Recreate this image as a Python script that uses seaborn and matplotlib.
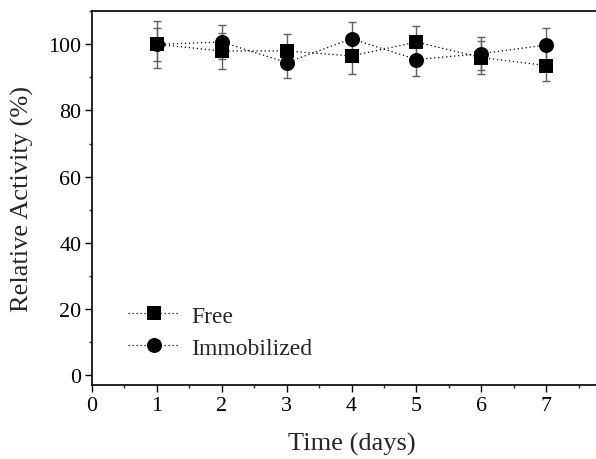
import numpy as np
import pandas as pd
import matplotlib
matplotlib.use("Agg")
import matplotlib.pyplot as plt
import seaborn as sns
from matplotlib.ticker import MultipleLocator

days = [1, 2, 3, 4, 5, 6, 7]
free = [100.0, 98.0, 98.0, 96.5, 100.7, 96.0, 93.6]
free_err = [7.0, 5.4, 5.0, 5.5, 5.0, 5.1, 4.7]
immob = [100.0, 100.7, 94.5, 101.7, 95.4, 97.2, 99.8]
immob_err = [5.0, 5.2, 4.8, 5.1, 4.9, 5.1, 5.0]
series_names = ["Free", "Immobilized"]
x_ticks = [0, 1, 2, 3, 4, 5, 6, 7]
y_ticks = [0, 20, 40, 60, 80, 100]

sns.set_style("ticks")
plt.rcParams["font.family"] = ["Liberation Serif", "DejaVu Serif"]

fig = plt.figure(figsize=(5.96, 4.60), dpi=100)
ax = fig.add_axes([0.1544, 0.1609, 0.871, 0.8124])

df = pd.DataFrame({
    "day": days * 2,
    "val": free + immob,
    "sample": [series_names[0]] * len(days) + [series_names[1]] * len(days),
})

err_color = "#606060"
ax.errorbar(days, free, yerr=free_err, fmt="none", ecolor=err_color,
            elinewidth=1.0, capsize=2.9, capthick=1.0, zorder=2)
ax.errorbar(days, immob, yerr=immob_err, fmt="none", ecolor=err_color,
            elinewidth=1.0, capsize=2.9, capthick=1.0, zorder=2)

sns.lineplot(data=df[df["sample"] == "Free"], x="day", y="val", ax=ax,
             color="black", marker="s", markersize=9.4, markeredgewidth=0,
             linestyle=(0, (1, 2.2)), linewidth=0.9, label="Free", zorder=3)
sns.lineplot(data=df[df["sample"] == "Immobilized"], x="day", y="val", ax=ax,
             color="black", marker="o", markersize=10.8, markeredgewidth=0,
             linestyle=(0, (1, 2.2)), linewidth=0.9, label="Immobilized", zorder=3)

ax.set_xlim(0, 8)
ax.set_ylim(-3, 110)
ax.set_xticks(x_ticks)
ax.set_yticks(y_ticks)
ax.xaxis.set_minor_locator(MultipleLocator(0.5))
ax.yaxis.set_minor_locator(MultipleLocator(10))
ax.tick_params(axis="both", which="major", direction="out", length=4.8, width=1.0,
               labelsize=15.8, colors="black", pad=3)
ax.tick_params(axis="both", which="minor", direction="out", length=2.4, width=1.0)
ax.tick_params(top=False, right=False, which="both")
for s in ax.spines.values():
    s.set_linewidth(1.2)
    s.set_color("black")

ax.set_xlabel("Time (days)", fontsize=19, labelpad=12)
ax.set_ylabel("Relative Activity (%)", fontsize=19, labelpad=10)

leg = ax.legend(loc="center left", bbox_to_anchor=(0.069, 0.142), frameon=False,
                fontsize=17, handlelength=2.2, handletextpad=0.5,
                labelspacing=0.45, borderpad=0, borderaxespad=0)

fig.savefig("out.png", dpi=100)
